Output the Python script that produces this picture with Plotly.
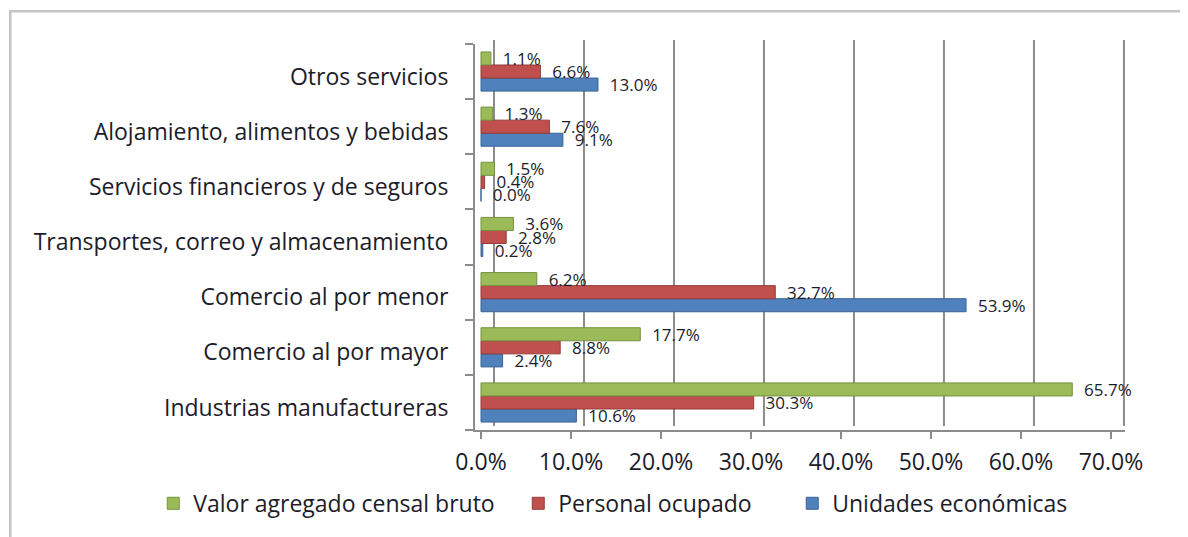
import plotly.graph_objects as go

# Categories listed bottom-to-top (Plotly draws first category at bottom)
categories = [
    "Industrias manufactureras",
    "Comercio al por mayor",
    "Comercio al por menor",
    "Transportes, correo y almacenamiento",
    "Servicios financieros y de seguros",
    "Alojamiento, alimentos y bebidas",
    "Otros servicios",
]
unidades = [10.6, 2.4, 53.9, 0.2, 0.0, 9.1, 13.0]
personal = [30.3, 8.8, 32.7, 2.8, 0.4, 7.6, 6.6]
valor = [65.7, 17.7, 6.2, 3.6, 1.5, 1.3, 1.1]

tick_vals = [0, 10, 20, 30, 40, 50, 60, 70]
tick_text = ["0.0%", "10.0%", "20.0%", "30.0%", "40.0%", "50.0%", "60.0%", "70.0%"]

FONT = "'Open Sans', 'Noto Sans', sans-serif"
TXT = "#1c1c2a"
GRID = "#8c8c8c"

series = [
    ("Unidades económicas", unidades, "#4F81BD", "#3a6496", None),
    ("Personal ocupado", personal, "#C0504D", "#953b39", 229),
    ("Valor agregado censal bruto", valor, "#9BBB59", "#76913f", 320),
]

fig = go.Figure()
for name, vals, col, edge, lw in series:
    kw = {}
    if lw:
        kw["legendwidth"] = lw
    fig.add_trace(go.Bar(
        y=categories, x=vals, name=name, orientation="h",
        marker=dict(color=col, line=dict(color=edge, width=1)),
        texttemplate="\u00a0\u00a0%{x:.1f}%", textposition="outside",
        constraintext="none",
        textfont=dict(family=FONT, size=17, color=TXT),
        cliponaxis=False, **kw,
    ))

# back-wall gridlines: drawn below the bars, shifted 13px right for the 3D look
grid_shapes = [
    dict(type="line", xref="x", xsizemode="pixel", xanchor=v, x0=13, x1=13,
         yref="paper", y0=0.02, y1=1.0, line=dict(color=GRID, width=2), layer="below")
    for v in tick_vals
]

fig.update_layout(
    width=1180, height=529,
    margin=dict(l=467, r=63, t=32, b=85),
    paper_bgcolor="white", plot_bgcolor="rgba(0,0,0,0)",
    barmode="group", bargap=0.29, bargroupgap=0.0,
    font=dict(family=FONT, color=TXT, size=23),
    showlegend=True,
    legend=dict(orientation="h", traceorder="reversed",
                x=-0.495, xanchor="left", y=-0.176, yanchor="middle",
                font=dict(family=FONT, size=23, color=TXT),
                itemwidth=30, bgcolor="rgba(0,0,0,0)"),
    xaxis=dict(
        range=[-0.667, 71.56], tickvals=tick_vals, ticktext=tick_text,
        showgrid=False, zeroline=False, showline=True, linecolor=GRID, linewidth=2,
        ticks="outside", ticklen=7, tickcolor=GRID, tickwidth=2,
        ticklabelstandoff=3, tickfont=dict(family=FONT, size=23, color=TXT),
    ),
    yaxis=dict(
        domain=[0.01, 0.99], range=[-0.5, 6.5],
        showgrid=False, zeroline=False, showline=True, linecolor=GRID, linewidth=2,
        ticks="outside", tickson="boundaries", ticklen=8, tickcolor=GRID, tickwidth=2,
        ticklabelstandoff=20, ticklabelshift=5,
        tickfont=dict(family=FONT, size=23, color=TXT),
    ),
    shapes=grid_shapes + [dict(type="rect", xref="paper", yref="paper",
                 x0=-0.715, x1=1.12, y0=-0.3, y1=1.073,
                 line=dict(color="#c4c4c4", width=2.5), layer="below")],
)

fig.write_html("out.html")
